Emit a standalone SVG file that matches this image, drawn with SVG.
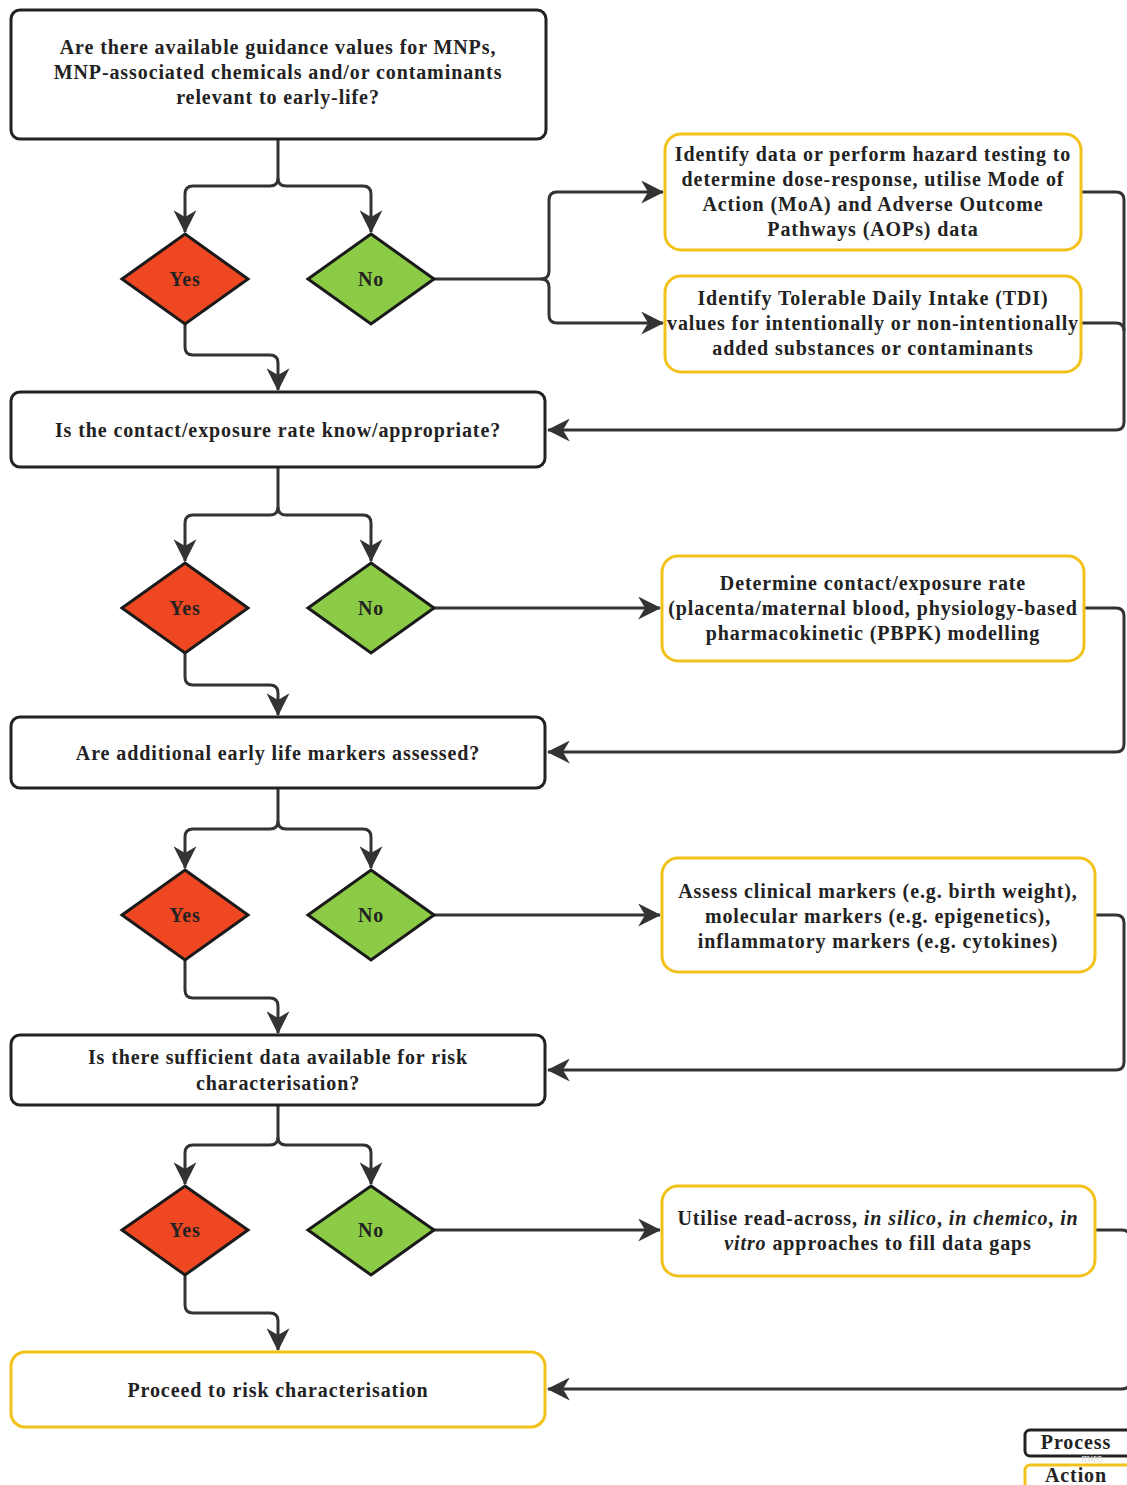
<svg xmlns="http://www.w3.org/2000/svg" width="1127" height="1485" viewBox="0 0 1127 1485">
<defs>
<style>
.proc{fill:#fff;stroke:#222;stroke-width:3}
.act{fill:#fff;stroke:#F2C21A;stroke-width:3}
.yes{fill:#EE4722;stroke:#1a1a1a;stroke-width:3;stroke-linejoin:miter}
.no{fill:#8BCB45;stroke:#1a1a1a;stroke-width:3;stroke-linejoin:miter}
.t{font-family:"Liberation Serif","Times New Roman",serif;font-weight:bold;font-size:20px;letter-spacing:0.9px;fill:#222;text-anchor:middle}
.c{fill:none;stroke:#333;stroke-width:3;stroke-linejoin:round}
.wm{font-family:"Liberation Sans",Arial,sans-serif;font-size:11px;fill:#ddd;text-anchor:middle}
</style>
<marker id="ah" markerUnits="userSpaceOnUse" viewBox="0 0 20 20" markerWidth="23" markerHeight="23" refX="19" refY="10" orient="auto">
<path d="M0,0 L20,10 L0,20 L6,10 Z" fill="#333"/>
</marker>
</defs>

<g id="connectors">
<path class="c" d="M278,139 V178 Q278,186 270,186 H193 Q185,186 185,194 V232" marker-end="url(#ah)"/>
<path class="c" d="M278,178 Q278,186 286,186 H363 Q371,186 371,194 V232" marker-end="url(#ah)"/>
<path class="c" d="M185,324 V347 Q185,355 193,355 H270 Q278,355 278,363 V390" marker-end="url(#ah)"/>
<path class="c" d="M434,279 H541 Q549,279 549,271 V200 Q549,192 557,192 H663" marker-end="url(#ah)"/>
<path class="c" d="M541,279 Q549,279 549,287 V315 Q549,323 557,323 H663" marker-end="url(#ah)"/>
<path class="c" d="M1081,192 H1116 Q1124,192 1124,200 V422 Q1124,430 1116,430 H548" marker-end="url(#ah)"/>
<path class="c" d="M1081,323 H1116 Q1124,323 1124,331"/>
<path class="c" d="M278,467 V507 Q278,515 270,515 H193 Q185,515 185,523 V561" marker-end="url(#ah)"/>
<path class="c" d="M278,507 Q278,515 286,515 H363 Q371,515 371,523 V561" marker-end="url(#ah)"/>
<path class="c" d="M185,653 V677 Q185,685 193,685 H270 Q278,685 278,693 V715" marker-end="url(#ah)"/>
<path class="c" d="M434,608 H660" marker-end="url(#ah)"/>
<path class="c" d="M1084,608 H1116 Q1124,608 1124,616 V744 Q1124,752 1116,752 H548" marker-end="url(#ah)"/>
<path class="c" d="M278,788 V821 Q278,829 270,829 H193 Q185,829 185,837 V868" marker-end="url(#ah)"/>
<path class="c" d="M278,821 Q278,829 286,829 H363 Q371,829 371,837 V868" marker-end="url(#ah)"/>
<path class="c" d="M185,960 V990 Q185,998 193,998 H270 Q278,998 278,1006 V1033" marker-end="url(#ah)"/>
<path class="c" d="M434,915 H660" marker-end="url(#ah)"/>
<path class="c" d="M1095,915 H1116 Q1124,915 1124,923 V1062 Q1124,1070 1116,1070 H548" marker-end="url(#ah)"/>
<path class="c" d="M278,1105 V1137 Q278,1145 270,1145 H193 Q185,1145 185,1153 V1184" marker-end="url(#ah)"/>
<path class="c" d="M278,1137 Q278,1145 286,1145 H363 Q371,1145 371,1153 V1184" marker-end="url(#ah)"/>
<path class="c" d="M185,1275 V1305 Q185,1313 193,1313 H270 Q278,1313 278,1321 V1350" marker-end="url(#ah)"/>
<path class="c" d="M434,1230 H660" marker-end="url(#ah)"/>
<path class="c" d="M1095,1230 H1122 Q1130,1230 1130,1238 V1381 Q1130,1389 1122,1389 H548" marker-end="url(#ah)"/>
</g>

<g id="q1">
<rect class="proc" x="11" y="10" width="535" height="129" rx="9"/>
<text class="t" x="278" y="54">Are there available guidance values for MNPs,</text>
<text class="t" x="278" y="79">MNP-associated chemicals and/or contaminants</text>
<text class="t" x="278" y="104">relevant to early-life?</text>
</g>
<g id="yes1"><polygon class="yes" points="185,234 248,279 185,324 122,279"/><text class="t" x="185" y="286">Yes</text></g>
<g id="no1"><polygon class="no" points="371,234 434,279 371,324 308,279"/><text class="t" x="371" y="286">No</text></g>
<g id="a1">
<rect class="act" x="665" y="134" width="416" height="116" rx="16"/>
<text class="t" x="873" y="161">Identify data or perform hazard testing to</text>
<text class="t" x="873" y="186">determine dose-response, utilise Mode of</text>
<text class="t" x="873" y="211">Action (MoA) and Adverse Outcome</text>
<text class="t" x="873" y="236">Pathways (AOPs) data</text>
</g>
<g id="a2">
<rect class="act" x="665" y="276" width="416" height="96" rx="16"/>
<text class="t" x="873" y="305">Identify Tolerable Daily Intake (TDI)</text>
<text class="t" x="873" y="330">values for intentionally or non-intentionally</text>
<text class="t" x="873" y="355">added substances or contaminants</text>
</g>

<g id="q2">
<rect class="proc" x="11" y="392" width="534" height="75" rx="9"/>
<text class="t" x="278" y="437">Is the contact/exposure rate know/appropriate?</text>
</g>
<g id="yes2"><polygon class="yes" points="185,563 248,608 185,653 122,608"/><text class="t" x="185" y="615">Yes</text></g>
<g id="no2"><polygon class="no" points="371,563 434,608 371,653 308,608"/><text class="t" x="371" y="615">No</text></g>
<g id="a3">
<rect class="act" x="662" y="556" width="422" height="105" rx="16"/>
<text class="t" x="873" y="590">Determine contact/exposure rate</text>
<text class="t" x="873" y="615">(placenta/maternal blood, physiology-based</text>
<text class="t" x="873" y="640">pharmacokinetic (PBPK) modelling</text>
</g>

<g id="q3">
<rect class="proc" x="11" y="717" width="534" height="71" rx="9"/>
<text class="t" x="278" y="760">Are additional early life markers assessed?</text>
</g>
<g id="yes3"><polygon class="yes" points="185,870 248,915 185,960 122,915"/><text class="t" x="185" y="922">Yes</text></g>
<g id="no3"><polygon class="no" points="371,870 434,915 371,960 308,915"/><text class="t" x="371" y="922">No</text></g>
<g id="a4">
<rect class="act" x="662" y="858" width="433" height="114" rx="16"/>
<text class="t" x="878" y="898">Assess clinical markers (e.g. birth weight),</text>
<text class="t" x="878" y="923">molecular markers (e.g. epigenetics),</text>
<text class="t" x="878" y="948">inflammatory markers (e.g. cytokines)</text>
</g>

<g id="q4">
<rect class="proc" x="11" y="1035" width="534" height="70" rx="9"/>
<text class="t" x="278" y="1064">Is there sufficient data available for risk</text>
<text class="t" x="278" y="1090">characterisation?</text>
</g>
<g id="yes4"><polygon class="yes" points="185,1186 248,1230 185,1275 122,1230"/><text class="t" x="185" y="1237">Yes</text></g>
<g id="no4"><polygon class="no" points="371,1186 434,1230 371,1275 308,1230"/><text class="t" x="371" y="1237">No</text></g>
<g id="a5">
<rect class="act" x="662" y="1186" width="433" height="90" rx="16"/>
<text class="t" x="878" y="1225">Utilise read-across, <tspan font-style="italic">in silico</tspan>, <tspan font-style="italic">in chemico</tspan>, <tspan font-style="italic">in</tspan></text>
<text class="t" x="878" y="1250"><tspan font-style="italic">vitro</tspan> approaches to fill data gaps</text>
</g>

<g id="final">
<rect class="act" x="11" y="1352" width="534" height="75" rx="14"/>
<text class="t" x="278" y="1397">Proceed to risk characterisation</text>
</g>

<g id="legend">
<rect class="proc" x="1025" y="1430" width="110" height="26" rx="5"/>
<text class="t" x="1076" y="1449">Process</text>
<rect class="act" x="1025" y="1465" width="110" height="30" rx="5"/>
<text class="t" x="1076" y="1482">Action</text>
<text class="wm" x="1092" y="1462">miro</text>
</g>
</svg>
